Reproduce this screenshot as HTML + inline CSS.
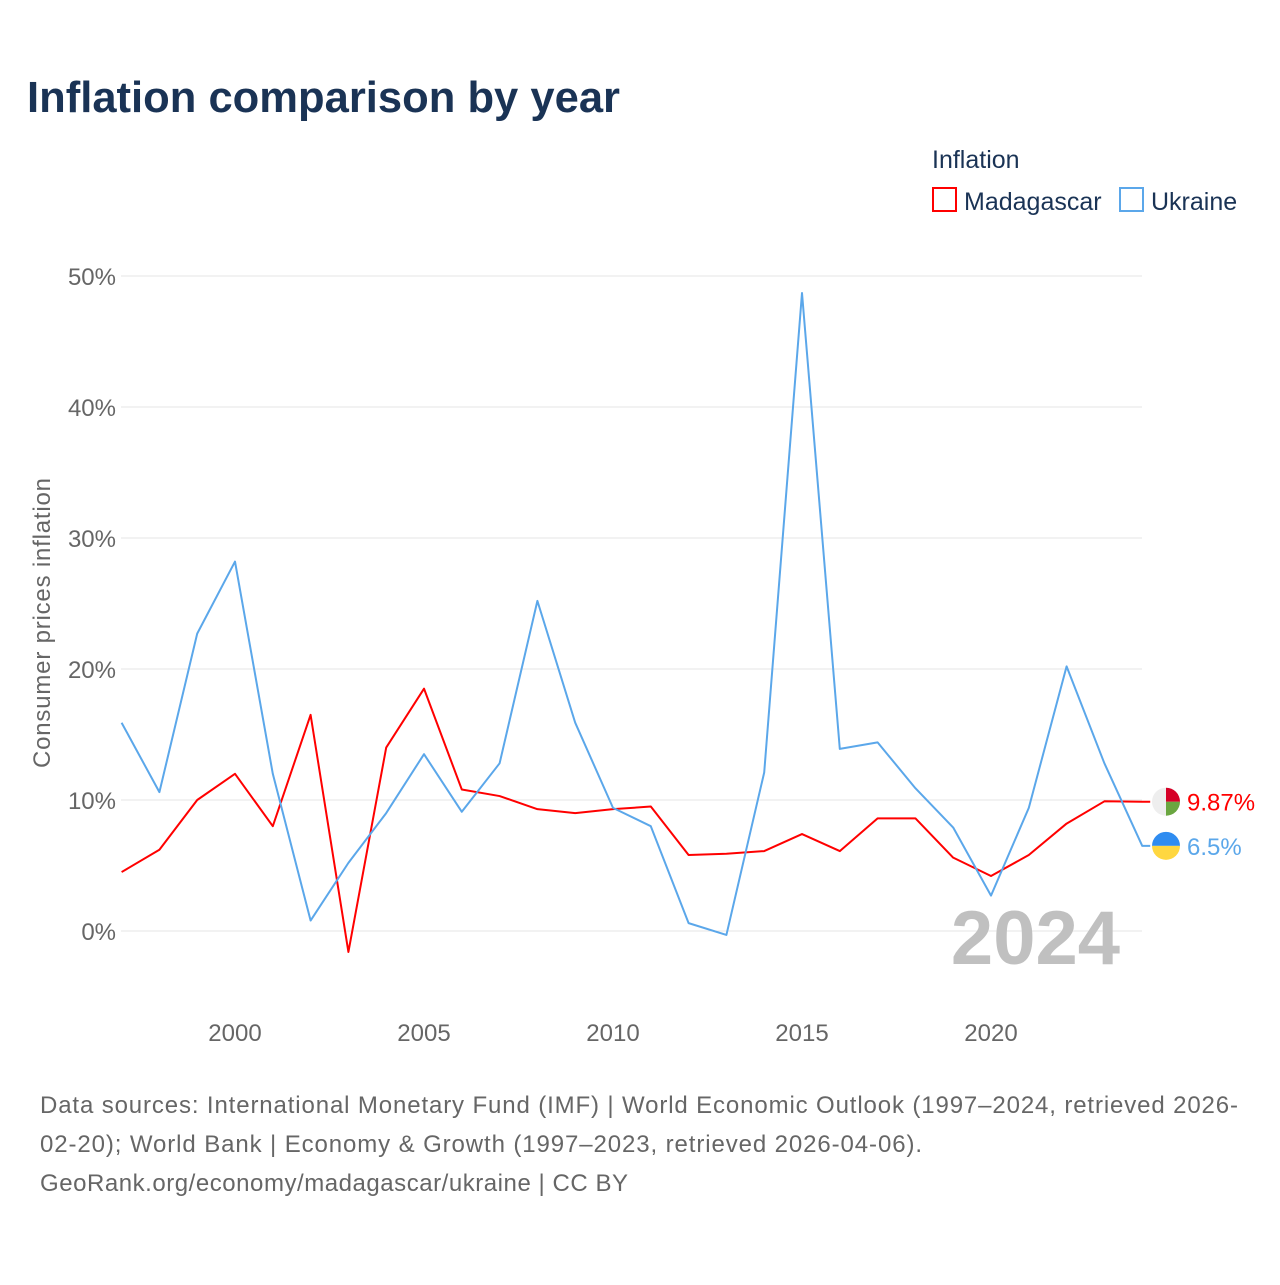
<!DOCTYPE html>
<html><head><meta charset="utf-8"><style>
body{margin:0;background:#fff;width:1280px;height:1280px;overflow:hidden;font-family:"Liberation Sans",sans-serif}
svg text{font-family:"Liberation Sans",sans-serif}
</style></head><body>
<svg id="c" width="1280" height="1280">
<text x="27" y="112" font-size="44" font-weight="bold" fill="#1a3355" textLength="593" lengthAdjust="spacingAndGlyphs">Inflation comparison by year</text>
<text x="932" y="168" font-size="25" fill="#1a3355">Inflation</text>
<g><rect x="933" y="188" width="23" height="23" fill="none" stroke="#f00" stroke-width="2"/><text x="964" y="210" font-size="25" fill="#1a3355">Madagascar</text></g>
<g><rect x="1120" y="188" width="23" height="23" fill="none" stroke="#5ba7ea" stroke-width="2"/><text x="1151" y="210" font-size="25" fill="#1a3355">Ukraine</text></g>
<text transform="translate(50,623) rotate(-90)" text-anchor="middle" font-size="24" fill="#666" textLength="290">Consumer prices inflation</text>
<g id="grid"></g><g id="xt"></g>
<text x="1120" y="964" text-anchor="end" font-size="76" font-weight="bold" fill="#c0c0c0">2024</text>
<g id="lines"></g>
<g font-size="24" fill="#666">
<text x="40" y="1113" textLength="1198">Data sources: International Monetary Fund (IMF) | World Economic Outlook (1997–2024, retrieved 2026-</text>
<text x="40" y="1152" textLength="882">02-20); World Bank | Economy &amp; Growth (1997–2023, retrieved 2026-04-06).</text>
<text x="40" y="1191" textLength="588">GeoRank.org/economy/madagascar/ukraine | CC BY</text>
</g>
</svg>
<script>
const years=[1997,1998,1999,2000,2001,2002,2003,2004,2005,2006,2007,2008,2009,2010,2011,2012,2013,2014,2015,2016,2017,2018,2019,2020,2021,2022,2023,2024];
const madagascar=[4.5,6.2,10,12,8,16.5,-1.6,14,18.5,10.8,10.3,9.3,9.0,9.3,9.5,5.8,5.9,6.1,7.4,6.1,8.6,8.6,5.6,4.2,5.8,8.2,9.9,9.87];
const ukraine=[15.9,10.6,22.7,28.2,12.0,0.8,5.2,9.0,13.5,9.1,12.8,25.2,15.9,9.4,8.0,0.6,-0.3,12.1,48.7,13.9,14.4,10.9,7.9,2.7,9.4,20.2,12.8,6.5];
const yTicks=[0,10,20,30,40,50];
const xTicks=[2000,2005,2010,2015,2020];
const X=y=>121.6+(y-1997)*37.8, Y=v=>931-v*13.1;
const NS="http://www.w3.org/2000/svg";
function mk(t,a,p){const e=document.createElementNS(NS,t);for(const k in a)e.setAttribute(k,a[k]);p.appendChild(e);return e;}
const g=document.getElementById('grid'),xt=document.getElementById('xt'),L=document.getElementById('lines');
yTicks.forEach(v=>{const l=mk('line',{x1:121,x2:1142,y1:Y(v),y2:Y(v),stroke:'#e6e6e6'},g);


const t=mk('text',{x:116,y:Y(v)+9,'text-anchor':'end','font-size':24,fill:'#666'},g);t.textContent=v+'%';

});
xTicks.forEach(v=>{const t=mk('text',{x:X(v),y:1041,'text-anchor':'middle','font-size':24,fill:'#666'},xt);t.textContent=v;

});
function series(d,col,name){const pts=d.map((v,i)=>X(years[i])+','+Y(v));const last=d[d.length-1];
pts.push((X(2024)+8)+','+Y(last));
const p=mk('polyline',{points:pts.join(' '),fill:'none',stroke:col,'stroke-width':2,'stroke-linejoin':'round'},L);

return Y(last);}
const ym=series(madagascar,'#f00','madagascar'),yu=series(ukraine,'#5ba7ea','ukraine');
const fm=mk('g',{},L);
const cx=1166;
mk('circle',{cx:cx,cy:ym,r:14,fill:'#eee'},fm);
mk('path',{d:`M${cx} ${ym}V${ym-14}A14 14 0 0 1 ${cx+14} ${ym}Z`,fill:'#d50027'},fm);
mk('path',{d:`M${cx} ${ym}H${cx+14}A14 14 0 0 1 ${cx} ${ym+14}Z`,fill:'#6aa640'},fm);
const fu=mk('g',{},L);
mk('path',{d:`M${cx-14} ${yu}A14 14 0 0 1 ${cx+14} ${yu}Z`,fill:'#2f8cf0'},fu);
mk('path',{d:`M${cx-14} ${yu}A14 14 0 0 0 ${cx+14} ${yu}Z`,fill:'#ffd740'},fu);
const lm=mk('text',{x:1187,y:ym+9,'font-size':24,fill:'#f00'},L);lm.textContent=madagascar[madagascar.length-1]+'%';


const lu=mk('text',{x:1187,y:yu+9,'font-size':24,fill:'#5ba7ea'},L);lu.textContent=ukraine[ukraine.length-1]+'%';


</script>
</body></html>
